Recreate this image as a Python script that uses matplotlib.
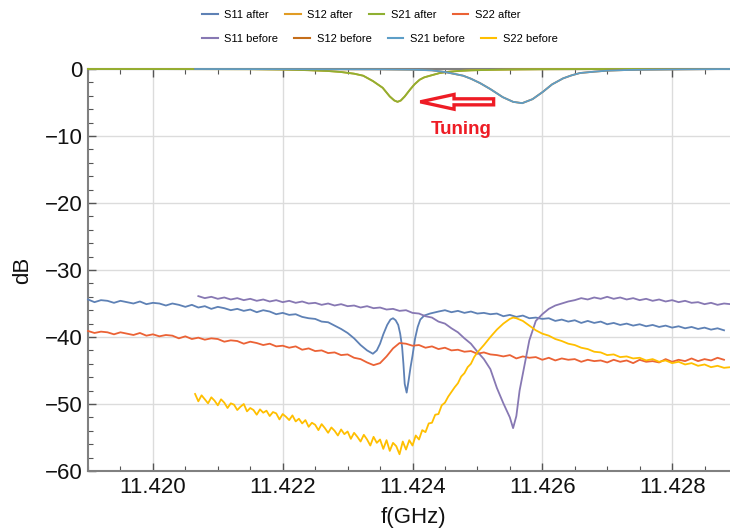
import matplotlib
matplotlib.use("Agg")
import matplotlib.pyplot as plt
from matplotlib.patches import FancyArrow
from matplotlib.lines import Line2D
from matplotlib.ticker import MultipleLocator, FormatStrFormatter

plt.rcParams['font.family'] = ['Liberation Sans', 'DejaVu Sans']

# ---------------------------------------------------------------- data
# S11 after tuning
s11_after_f = [
    11.4190, 11.4191, 11.4192, 11.4193, 11.4194, 11.4195, 11.4196, 11.4197, 11.4198, 11.4199,
    11.4200, 11.4201, 11.4202, 11.4203, 11.4204, 11.4205, 11.4206, 11.4207, 11.4208, 11.4209,
    11.4210, 11.4211, 11.4212, 11.4213, 11.4214, 11.4215, 11.4216, 11.4217, 11.4218, 11.4219,
    11.4220, 11.4221, 11.4222, 11.4223, 11.4224, 11.4225, 11.4226, 11.4227, 11.4228, 11.4229,
    11.4230,
    11.42310, 11.42320, 11.42330, 11.42339, 11.42345, 11.42350, 11.42355, 11.42361, 11.42366,
    11.42370, 11.42374, 11.42378, 11.42381, 11.42384, 11.42386, 11.42388, 11.42391, 11.42394,
    11.42397, 11.42400, 11.42404, 11.42408, 11.42412, 11.42418, 11.42427,
    11.4244, 11.4245, 11.4246, 11.4247, 11.4248, 11.4249, 11.4250, 11.4251, 11.4252, 11.4253,
    11.4254, 11.4255, 11.4256, 11.4257, 11.4258, 11.4259, 11.4260, 11.4261, 11.4262, 11.4263,
    11.4264, 11.4265, 11.4266, 11.4267, 11.4268, 11.4269, 11.4270, 11.4271, 11.4272, 11.4273,
    11.4274, 11.4275, 11.4276, 11.4277, 11.4278, 11.4279, 11.4280, 11.4281, 11.4282, 11.4283,
    11.4284, 11.4285, 11.4286, 11.4287, 11.4288,
]
s11_after_db = [
    -34.4, -34.8, -34.5, -34.6, -34.9, -34.6, -34.8, -35.0, -34.7, -35.1,
    -34.9, -35.0, -35.3, -35.0, -35.2, -35.5, -35.2, -35.6, -35.4, -35.8,
    -35.5, -35.7, -36.0, -35.8, -36.1, -35.9, -36.3, -36.0, -36.2, -36.6,
    -36.4, -36.7, -36.6, -37.0, -37.2, -37.3, -37.7, -37.8, -38.3, -38.8,
    -39.4,
    -40.2, -41.2, -42.0, -42.5, -42.0, -41.0, -39.6, -38.2, -37.4,
    -37.2, -37.5, -38.2, -39.5, -41.5, -44.0, -47.0, -48.3, -46.5,
    -44.5, -42.8, -40.2, -38.5, -37.4, -36.8, -36.5,
    -36.2, -36.0, -36.3, -36.1, -36.4, -36.2, -36.5, -36.4, -36.6, -36.5,
    -36.9, -36.7, -37.0, -36.8, -37.2, -37.1, -37.3, -37.2, -37.6, -37.4,
    -37.7, -37.5, -37.9, -37.6, -37.9, -37.7, -38.1, -37.9, -38.2, -38.0,
    -38.3, -38.1, -38.4, -38.2, -38.5, -38.3, -38.6, -38.4, -38.7, -38.5,
    -38.8, -38.6, -38.9, -38.7, -39.0,
]

# S21 after tuning (transmission resonance)
s21_after_f = [11.4190, 11.4215, 11.4220, 11.4224, 11.4227, 11.4229, 11.4231, 11.42324,
               11.42339, 11.42354, 11.42365, 11.42372, 11.42377, 11.42382, 11.42388,
               11.42396, 11.42403, 11.42411, 11.42418, 11.42427, 11.42442, 11.42455,
               11.4247, 11.4249, 11.4252, 11.4256, 11.4260, 11.4270, 11.4289]
s21_after_db = [0.0, -0.03, -0.08, -0.18, -0.3, -0.45, -0.7, -1.0,
                -1.8, -2.8, -4.1, -4.7, -4.9, -4.7, -4.1,
                -3.1, -2.3, -1.6, -1.25, -1.0, -0.6, -0.42,
                -0.3, -0.2, -0.13, -0.07, -0.04, -0.01, 0.0]

# S12 after tuning (reciprocal, lies under S21)
s12_after_f = [11.4190, 11.4215, 11.4220, 11.4224, 11.4227, 11.4229, 11.4231, 11.42324,
               11.42339, 11.42354, 11.42365, 11.42372, 11.42377, 11.42382, 11.42388,
               11.42396, 11.42403, 11.42411, 11.42418, 11.42427, 11.42442, 11.42455,
               11.4247, 11.4249, 11.4252, 11.4256, 11.4260, 11.4270, 11.4289]
s12_after_db = [0.0, -0.03, -0.08, -0.18, -0.3, -0.45, -0.7, -1.0,
                -1.8, -2.8, -4.1, -4.7, -4.9, -4.7, -4.1,
                -3.1, -2.3, -1.6, -1.25, -1.0, -0.6, -0.42,
                -0.3, -0.2, -0.13, -0.07, -0.04, -0.01, 0.0]

# S22 after tuning
s22_after_f = [
    11.4190, 11.4191, 11.4192, 11.4193, 11.4194, 11.4195, 11.4196, 11.4197, 11.4198, 11.4199,
    11.4200, 11.4201, 11.4202, 11.4203, 11.4204, 11.4205, 11.4206, 11.4207, 11.4208, 11.4209,
    11.4210, 11.4211, 11.4212, 11.4213, 11.4214, 11.4215, 11.4216, 11.4217, 11.4218, 11.4219,
    11.4220, 11.4221, 11.4222, 11.4223, 11.4224, 11.4225, 11.4226, 11.4227, 11.4228, 11.4229,
    11.4230, 11.4231, 11.4232, 11.4233, 11.4234, 11.4235, 11.4236, 11.4237, 11.4238, 11.4239,
    11.4240, 11.4241, 11.4242, 11.4243, 11.4244, 11.4245, 11.4246, 11.4247, 11.4248, 11.4249,
    11.4250, 11.4251, 11.4252, 11.4253, 11.4254, 11.4255, 11.4256, 11.4257, 11.4258, 11.4259,
    11.4260, 11.4261, 11.4262, 11.4263, 11.4264, 11.4265, 11.4266, 11.4267, 11.4268, 11.4269,
    11.4270, 11.4271, 11.4272, 11.4273, 11.4274, 11.4275, 11.4276, 11.4277, 11.4278, 11.4279,
    11.4280, 11.4281, 11.4282, 11.4283, 11.4284, 11.4285, 11.4286, 11.4287, 11.4288,
]
s22_after_db = [
    -39.1, -39.4, -39.2, -39.3, -39.6, -39.3, -39.5, -39.7, -39.4, -39.8,
    -39.6, -39.9, -39.7, -39.8, -40.2, -39.9, -40.3, -40.1, -40.4, -40.2,
    -40.3, -40.7, -40.5, -40.6, -41.0, -40.7, -40.9, -41.2, -41.0, -41.4,
    -41.3, -41.6, -41.4, -41.9, -41.7, -42.1, -42.0, -42.4, -42.3, -42.7,
    -42.6, -43.1, -43.3, -43.8, -44.2, -43.9, -42.9, -41.7, -40.9, -41.0,
    -41.3, -41.2, -41.6, -41.4, -41.8, -41.6, -42.0, -41.9, -42.2, -42.1,
    -42.5, -42.3, -42.6, -42.7, -42.9, -42.7, -43.2, -42.9, -43.1, -43.0,
    -43.4, -43.1, -43.5, -43.2, -43.4, -43.3, -43.7, -43.4, -43.6, -43.5,
    -43.8, -43.4, -43.7, -43.5, -43.9, -43.4, -43.7, -43.6, -43.8, -43.3,
    -43.7, -43.4, -43.6, -43.2, -43.6, -43.3, -43.5, -43.1, -43.4,
]

# S11 before tuning
s11_before_f = [
    11.4207, 11.4208, 11.4209, 11.4210, 11.4211, 11.4212, 11.4213, 11.4214, 11.4215, 11.4216,
    11.4217, 11.4218, 11.4219, 11.4220, 11.4221, 11.4222, 11.4223, 11.4224, 11.4225, 11.4226,
    11.4227, 11.4228, 11.4229, 11.4230, 11.4231, 11.4232, 11.4233, 11.4234, 11.4235, 11.4236,
    11.4237, 11.4238, 11.4239, 11.4240, 11.4241, 11.4242, 11.4243, 11.4244, 11.4245, 11.4246,
    11.4247, 11.4248, 11.4249, 11.4250, 11.4251, 11.4252, 11.4253, 11.4254, 11.4255,
    11.42555, 11.4256, 11.42565, 11.4257, 11.42575, 11.4258,
    11.4259, 11.4260, 11.4261, 11.4262, 11.4263, 11.4264, 11.4265, 11.4266, 11.4267, 11.4268,
    11.4269, 11.4270, 11.4271, 11.4272, 11.4273, 11.4274, 11.4275, 11.4276, 11.4277, 11.4278,
    11.4279, 11.4280, 11.4281, 11.4282, 11.4283, 11.4284, 11.4285, 11.4286, 11.4287, 11.4288,
    11.4289,
]
s11_before_db = [
    -33.9, -34.2, -34.0, -34.3, -34.1, -34.4, -34.2, -34.5, -34.3, -34.6,
    -34.4, -34.7, -34.5, -34.8, -34.6, -34.9, -34.7, -35.0, -34.9, -35.2,
    -35.0, -35.3, -35.1, -35.4, -35.3, -35.6, -35.4, -35.7, -35.6, -35.9,
    -35.8, -36.1, -36.0, -36.4, -36.5, -36.9, -37.1, -37.7, -38.0, -38.7,
    -39.3, -40.2, -41.0, -42.2, -43.3, -44.8, -47.6, -49.9, -52.0,
    -53.6, -51.8, -48.0, -45.5, -43.0, -40.5,
    -37.6, -36.6, -35.8, -35.3, -35.0, -34.7, -34.5, -34.2, -34.4, -34.1,
    -34.3, -34.0, -34.3, -34.1, -34.4, -34.2, -34.5, -34.3, -34.6, -34.4,
    -34.7, -34.5, -34.8, -34.6, -34.9, -34.8, -35.1, -34.9, -35.2, -35.0,
    -35.1,
]

# S21 / S12 before tuning (transmission resonance at the original frequency)
s21_before_f = [11.42065, 11.4235, 11.4240, 11.4243, 11.4245, 11.42478, 11.4249, 11.42504,
                11.4252, 11.42539, 11.42555, 11.42569, 11.42585, 11.42601, 11.42615,
                11.42632, 11.42645, 11.42658, 11.4268, 11.4270, 11.4273, 11.4276,
                11.4282, 11.4289]
s21_before_db = [0.0, -0.05, -0.1, -0.2, -0.45, -1.0, -1.45, -2.1,
                 -3.0, -4.2, -4.9, -5.1, -4.5, -3.4, -2.3,
                 -1.4, -0.95, -0.6, -0.4, -0.25, -0.15, -0.1,
                 -0.05, 0.0]
s12_before_f = [11.42065, 11.4235, 11.4240, 11.4243, 11.4245, 11.42478, 11.4249, 11.42504,
                11.4252, 11.42539, 11.42555, 11.42569, 11.42585, 11.42601, 11.42615,
                11.42632, 11.42645, 11.42658, 11.4268, 11.4270, 11.4273, 11.4276,
                11.4282, 11.4289]
s12_before_db = [0.0, -0.05, -0.1, -0.2, -0.45, -1.0, -1.45, -2.1,
                 -3.0, -4.2, -4.9, -5.1, -4.5, -3.4, -2.3,
                 -1.4, -0.95, -0.6, -0.4, -0.25, -0.15, -0.1,
                 -0.05, 0.0]

# S22 before tuning
s22_before_f = [
    11.42065, 11.42070, 11.42075, 11.42080, 11.42085, 11.42090, 11.42095, 11.42100, 11.42105, 11.42110,
    11.42115, 11.42120, 11.42125, 11.42130, 11.42135, 11.42140, 11.42145, 11.42150, 11.42155, 11.42160,
    11.42165, 11.42170, 11.42175, 11.42180, 11.42185, 11.42190, 11.42195, 11.42200, 11.42205, 11.42210,
    11.42215, 11.42220, 11.42225, 11.42230, 11.42235, 11.42240, 11.42245, 11.42250, 11.42255, 11.42260,
    11.42265, 11.42270, 11.42275, 11.42280, 11.42285, 11.42290, 11.42295, 11.42300, 11.42305, 11.42310,
    11.42315, 11.42320, 11.42325, 11.42330, 11.42335, 11.42340, 11.42345, 11.42350, 11.42355, 11.42360,
    11.42365, 11.42370, 11.42375, 11.42380, 11.42385, 11.42390, 11.42395, 11.42400, 11.42405, 11.42410,
    11.42415, 11.42420, 11.42425, 11.42430, 11.42435, 11.42440, 11.42445, 11.42450, 11.42455, 11.42460,
    11.42465, 11.42470, 11.42475, 11.42480, 11.42485, 11.42490, 11.42495, 11.42500,
    11.42510, 11.42520, 11.42530, 11.42540, 11.42550, 11.42555, 11.42560, 11.42570, 11.42580, 11.42590,
    11.42600, 11.42610, 11.42620, 11.42630, 11.42640, 11.42650, 11.42660, 11.42670, 11.42680, 11.42690,
    11.42700, 11.42710, 11.42720, 11.42730, 11.42740, 11.42750, 11.42760, 11.42770, 11.42780, 11.42790,
    11.42800, 11.42810, 11.42820, 11.42830, 11.42840, 11.42850, 11.42860, 11.42870, 11.42880, 11.42890,
]
s22_before_db = [
    -48.5, -49.6, -48.7, -49.3, -49.9, -49.0, -49.5, -50.2, -49.3, -49.8,
    -50.6, -49.9, -50.1, -50.9, -50.4, -50.0, -51.1, -50.6, -50.9, -51.6,
    -50.8, -51.3, -51.0, -51.8, -51.2, -51.4, -52.3, -51.5, -51.9, -52.4,
    -51.7, -52.6, -52.2, -52.9, -52.4, -53.4, -52.8, -53.1, -53.9, -53.0,
    -53.6, -54.3, -53.5, -54.0, -54.7, -53.8, -54.5, -54.1, -55.2, -54.3,
    -54.9, -55.6, -54.6, -55.3, -56.2, -54.9, -55.8, -55.3, -56.7, -55.4,
    -57.0, -55.8, -56.3, -57.5, -55.6, -56.8, -55.4, -56.2, -54.7, -55.3,
    -53.9, -54.2, -52.9, -52.8, -51.6, -51.5, -50.2, -49.8, -48.9, -48.2,
    -47.5, -46.9, -45.9, -45.4, -44.5, -44.0, -43.0, -42.3,
    -41.2, -40.0, -38.9, -38.0, -37.3, -37.1, -37.2, -37.6, -38.3, -39.0,
    -39.5, -39.8, -40.3, -40.6, -41.0, -41.2, -41.6, -41.8, -42.2, -42.3,
    -42.7, -42.6, -43.0, -42.9, -43.2, -43.1, -43.5, -43.3, -43.7, -43.5,
    -43.9, -43.7, -44.1, -43.9, -44.3, -44.1, -44.5, -44.3, -44.6, -44.5,
]

labels = ["S11 after", "S12 after", "S21 after", "S22 after",
          "S11 before", "S12 before", "S21 before", "S22 before"]
colors = ["#5E81B5", "#E19C24", "#8FB032", "#EB6235",
          "#8778B3", "#C56E1A", "#5D9EC7", "#FFBF00"]
series = [(s11_after_f, s11_after_db), (s12_after_f, s12_after_db),
          (s21_after_f, s21_after_db), (s22_after_f, s22_after_db),
          (s11_before_f, s11_before_db), (s12_before_f, s12_before_db),
          (s21_before_f, s21_before_db), (s22_before_f, s22_before_db)]

x_major = [11.420, 11.422, 11.424, 11.426, 11.428]
y_major = [0, -10, -20, -30, -40, -50, -60]

# ---------------------------------------------------------------- figure
fig = plt.figure(figsize=(7.3, 5.32), dpi=100)
ax = fig.add_axes([88 / 730, 1 - 471 / 532, 649 / 730, 402 / 532])

for (f, db), c in zip(series, colors):
    ax.plot(f, db, color=c, lw=1.3, clip_on=False, zorder=3)

ax.set_xlim(11.419, 11.429)
ax.set_ylim(-60, 0)
ax.set_xticks(x_major)
ax.set_yticks(y_major)
ax.xaxis.set_major_formatter(FormatStrFormatter('%.3f'))
ax.xaxis.set_minor_locator(MultipleLocator(0.0005))
ax.yaxis.set_minor_locator(MultipleLocator(2))
ax.grid(True, which='major', color='#DCDCDC', lw=1.0, zorder=0)
ax.set_axisbelow(True)

ax.tick_params(which='both', direction='in', top=True, right=False,
               color='#555555', labelsize=16, labelcolor='#111111')
ax.tick_params(which='major', length=6, width=1.0)
ax.tick_params(which='minor', length=3.5, width=0.8)
ax.tick_params(axis='y', pad=4)
ax.tick_params(axis='x', pad=4)

for side in ['left', 'bottom', 'top']:
    ax.spines[side].set_color('#808080')
    ax.spines[side].set_linewidth(1.5)
ax.spines['right'].set_visible(False)

ax.set_xlabel('f(GHz)', fontsize=16, color='#111111')
ax.set_ylabel('dB', fontsize=16, color='#111111')
ax.xaxis.set_label_coords(0.5008, -0.089)
ax.yaxis.set_label_coords(-0.085, 0.5)

# tuning annotation
red = '#EE1C25'
arrow = FancyArrow(11.42525, -4.9, -0.00113, 0.0, width=0.9, head_width=2.2,
                   head_length=0.00052, length_includes_head=True,
                   facecolor='white', edgecolor=red, lw=2.4, zorder=5)
ax.add_patch(arrow)
ax.text(11.42475, -9.1, 'Tuning', color=red, fontsize=13.5, fontweight='bold',
        ha='center', va='center', zorder=5)

# two-row legend along the top
handles = [Line2D([], [], color=c, lw=1.5) for c in colors]
common = dict(frameon=False, fontsize=8, handlelength=1.4, handletextpad=0.6,
              columnspacing=1.45, borderpad=0, borderaxespad=0, ncol=4,
              loc='center left')
fig.legend(handles[:4], labels[:4], bbox_to_anchor=(202 / 730, 1 - 15 / 532), **common)
fig.legend(handles[4:], labels[4:], bbox_to_anchor=(202 / 730, 1 - 39 / 532), **common)

fig.savefig('out.png', dpi=100, facecolor='white')
